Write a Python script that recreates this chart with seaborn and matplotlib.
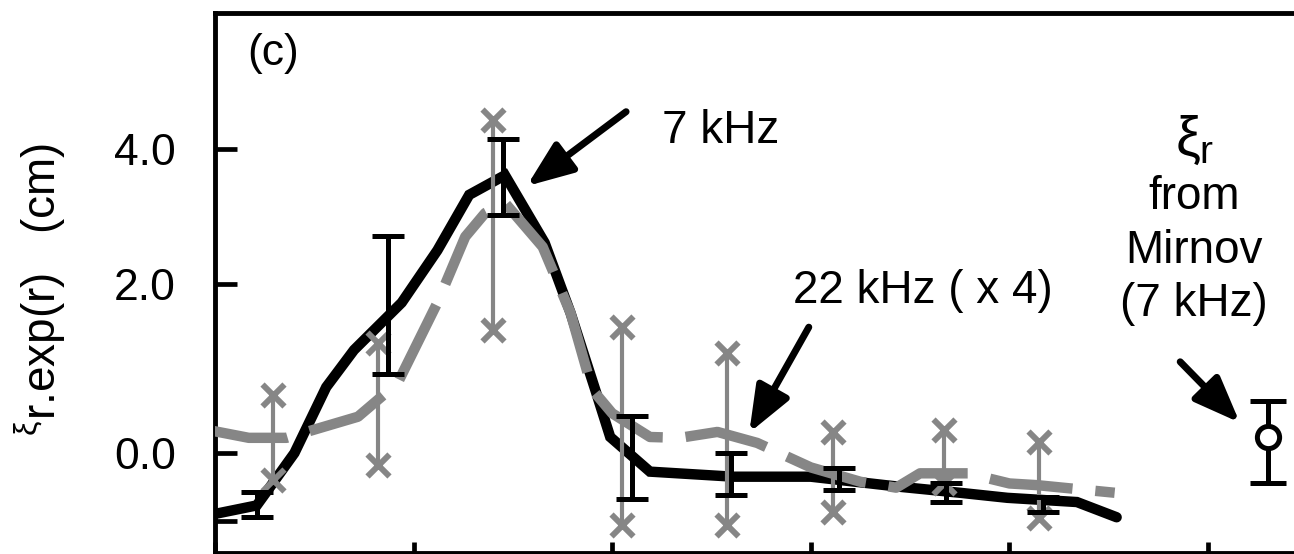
import numpy as np
import pandas as pd
import matplotlib
matplotlib.use("Agg")
import matplotlib.pyplot as plt
import seaborn as sns

# 7 kHz displacement profile (solid black)
r_7k = [-0.02, 0.21, 0.29, 0.40, 0.56, 0.70, 0.94, 1.12, 1.28, 1.46, 1.66, 1.79,
        1.92, 1.99, 2.19, 2.61, 3.00, 3.45, 3.75, 3.99, 4.34, 4.54]
xi_7k = [-0.73, -0.62, -0.36, 0.00, 0.78, 1.22, 1.78, 2.50, 3.32, 3.61, 2.61, 1.66,
         0.71, 0.19, -0.22, -0.28, -0.28, -0.40, -0.47, -0.53, -0.58, -0.76]

# 22 kHz profile, scaled x4 (grey dashed)
r_22k = [-0.05, 0.17, 0.36, 0.72, 0.92, 1.12, 1.26, 1.36, 1.46, 1.65, 1.79, 1.90,
         2.00, 2.19, 2.34, 2.53, 2.73, 3.00, 3.25, 3.43, 3.55, 3.79, 4.00, 4.14, 4.53]
xi_22k = [0.28, 0.18, 0.18, 0.43, 0.83, 1.78, 2.70, 3.05, 3.20, 2.55, 1.66, 0.75,
          0.47, 0.19, 0.18, 0.25, 0.12, -0.17, -0.34, -0.41, -0.24, -0.24, -0.36, -0.38, -0.47]

# error ranges, 22 kHz (grey, x ends)
r_err22 = [0.29, 0.82, 1.40, 2.05, 2.58, 3.11, 3.67, 4.15]
hi_err22 = [0.69, 1.30, 4.43, 1.49, 1.18, 0.25, 0.27, 0.13]
lo_err22 = [-0.32, -0.14, 1.46, -0.85, -0.85, -0.70, -0.36, -0.77]

# error ranges, 7 kHz (black, capped)
r_err7 = [0.21, 0.87, 1.45, 2.10, 2.60, 3.14, 3.68, 4.17]
hi_err7 = [-0.46, 2.71, 4.15, 0.44, 0.00, -0.18, -0.36, -0.52]
lo_err7 = [-0.76, 0.93, 3.02, -0.54, -0.50, -0.44, -0.58, -0.70]

# xi_r from Mirnov coils (7 kHz)
r_mirnov = [5.30]
xi_mirnov = [0.19]
lo_mirnov = [-0.36]
hi_mirnov = [0.62]

ytick_vals = [-0.8, 0.0, 2.0, 4.0]
ytick_labels = ["", "0.0", "2.0", "4.0"]

GREY = "#868686"

sns.set_theme(style="white")
plt.rcParams["font.family"] = ["Liberation Sans", "DejaVu Sans"]
plt.rcParams["text.color"] = "black"
plt.rcParams["axes.labelcolor"] = "black"
plt.rcParams["xtick.color"] = "black"
plt.rcParams["ytick.color"] = "black"
plt.rcParams["mathtext.fontset"] = "custom"
plt.rcParams["mathtext.rm"] = "Liberation Sans"
plt.rcParams["mathtext.it"] = "Liberation Sans"
plt.rcParams["mathtext.bf"] = "Liberation Sans:bold"

fig = plt.figure(figsize=(12.94, 5.54), dpi=100)
ax = fig.add_axes([215 / 1294, 1 / 554, 1100 / 1294, 540 / 554])

# axis above 2 cm is compressed in the original figure
def fwd(y):
    y = np.asarray(y, dtype=float)
    return np.where(y > 2, 2 + 0.8 * (y - 2), y)

def inv(u):
    u = np.asarray(u, dtype=float)
    return np.where(u > 2, 2 + (u - 2) / 0.8, u)

ax.set_yscale("function", functions=(fwd, inv))

df7 = pd.DataFrame({"r": r_7k, "xi": xi_7k})
df22 = pd.DataFrame({"r": r_22k, "xi": xi_22k})

sns.lineplot(data=df7, x="r", y="xi", ax=ax, color="black", lw=7.5,
             estimator=None, sort=False, zorder=2, solid_joinstyle="miter")
sns.lineplot(data=df22, x="r", y="xi", ax=ax, color=GREY, lw=7.5,
             estimator=None, sort=False, zorder=3, linestyle=(0, (8, 2.2)))

# grey error bars with x at both ends
lo22 = np.array(lo_err22)
hi22 = np.array(hi_err22)
ax.vlines(r_err22, lo22, hi22, color=GREY, lw=3.0, zorder=4)
ends = pd.DataFrame({"r": r_err22 + r_err22, "xi": list(lo22) + list(hi22)})
sns.scatterplot(data=ends, x="r", y="xi", ax=ax, marker="x", s=250,
                color=GREY, linewidth=4.3, zorder=4)

# black capped error bars
lo7 = np.array(lo_err7)
hi7 = np.array(hi_err7)
mid7 = (lo7 + hi7) / 2
ax.errorbar(r_err7, mid7, yerr=[mid7 - lo7, hi7 - mid7], fmt="none",
            ecolor="black", elinewidth=3.6, capsize=11.5, capthick=3.6, zorder=5)

# Mirnov point
lo_m = np.array(lo_mirnov)
hi_m = np.array(hi_mirnov)
ym = np.array(xi_mirnov)
ax.errorbar(r_mirnov, ym, yerr=[ym - lo_m, hi_m - ym], fmt="o", color="black",
            mfc="white", mec="black", ms=16, mew=3.6, elinewidth=3.6,
            capsize=13, capthick=3.6, zorder=5)

ax.set_xlim(0, 1100 / 198.6)
ax.set_ylim(-1.183, 6.01)

ax.set_xticks([0, 1, 2, 3, 4, 5])
ax.set_xticklabels([])
ax.set_yticks(ytick_vals)
ax.set_yticklabels(ytick_labels)
ax.tick_params(axis="y", direction="in", length=16, width=3.4, labelsize=32,
               pad=28, left=True)
ax.tick_params(axis="x", direction="in", length=8, width=3.4, bottom=True)
ax.minorticks_off()
ax.set_xlabel("")
ax.set_ylabel("")
for s in ax.spines.values():
    s.set_linewidth(3.5)
    s.set_color("black")

fig.text(40 / 1294, 1 - 290 / 554, r"$^{\xi}$r.exp(r)   (cm)", rotation=90,
         ha="center", va="center", fontsize=33)

# annotations
ax.text(0.16, 5.24, "(c)", fontsize=32, ha="left", va="baseline")
ax.text(2.25, 4.09, "7 kHz", fontsize=33, ha="left", va="baseline")
ax.text(2.91, 1.78, "22 kHz ( x 4)", fontsize=33, ha="left", va="baseline")
ax.text(4.93, 4.13, r"$\xi_{\mathregular{r}}$", fontsize=40, ha="center", va="center")
ax.text(4.93, 3.11, "from", fontsize=33, ha="center", va="baseline")
ax.text(4.93, 2.31, "Mirnov", fontsize=33, ha="center", va="baseline")
ax.text(4.93, 1.62, "(7 kHz)", fontsize=33, ha="center", va="baseline")

arrow = dict(arrowstyle="-|>,head_length=1.4,head_width=0.55", lw=5, color="black",
             mutation_scale=20, shrinkA=0, shrinkB=0)
ax.annotate("", xy=(1.57, 3.45), xytext=(2.07, 4.55), arrowprops=arrow)
ax.annotate("", xy=(2.69, 0.24), xytext=(2.99, 1.49), arrowprops=arrow)
ax.annotate("", xy=(5.16, 0.36), xytext=(4.86, 1.08), arrowprops=arrow)

fig.savefig("out.png", dpi=100)
plt.close()
